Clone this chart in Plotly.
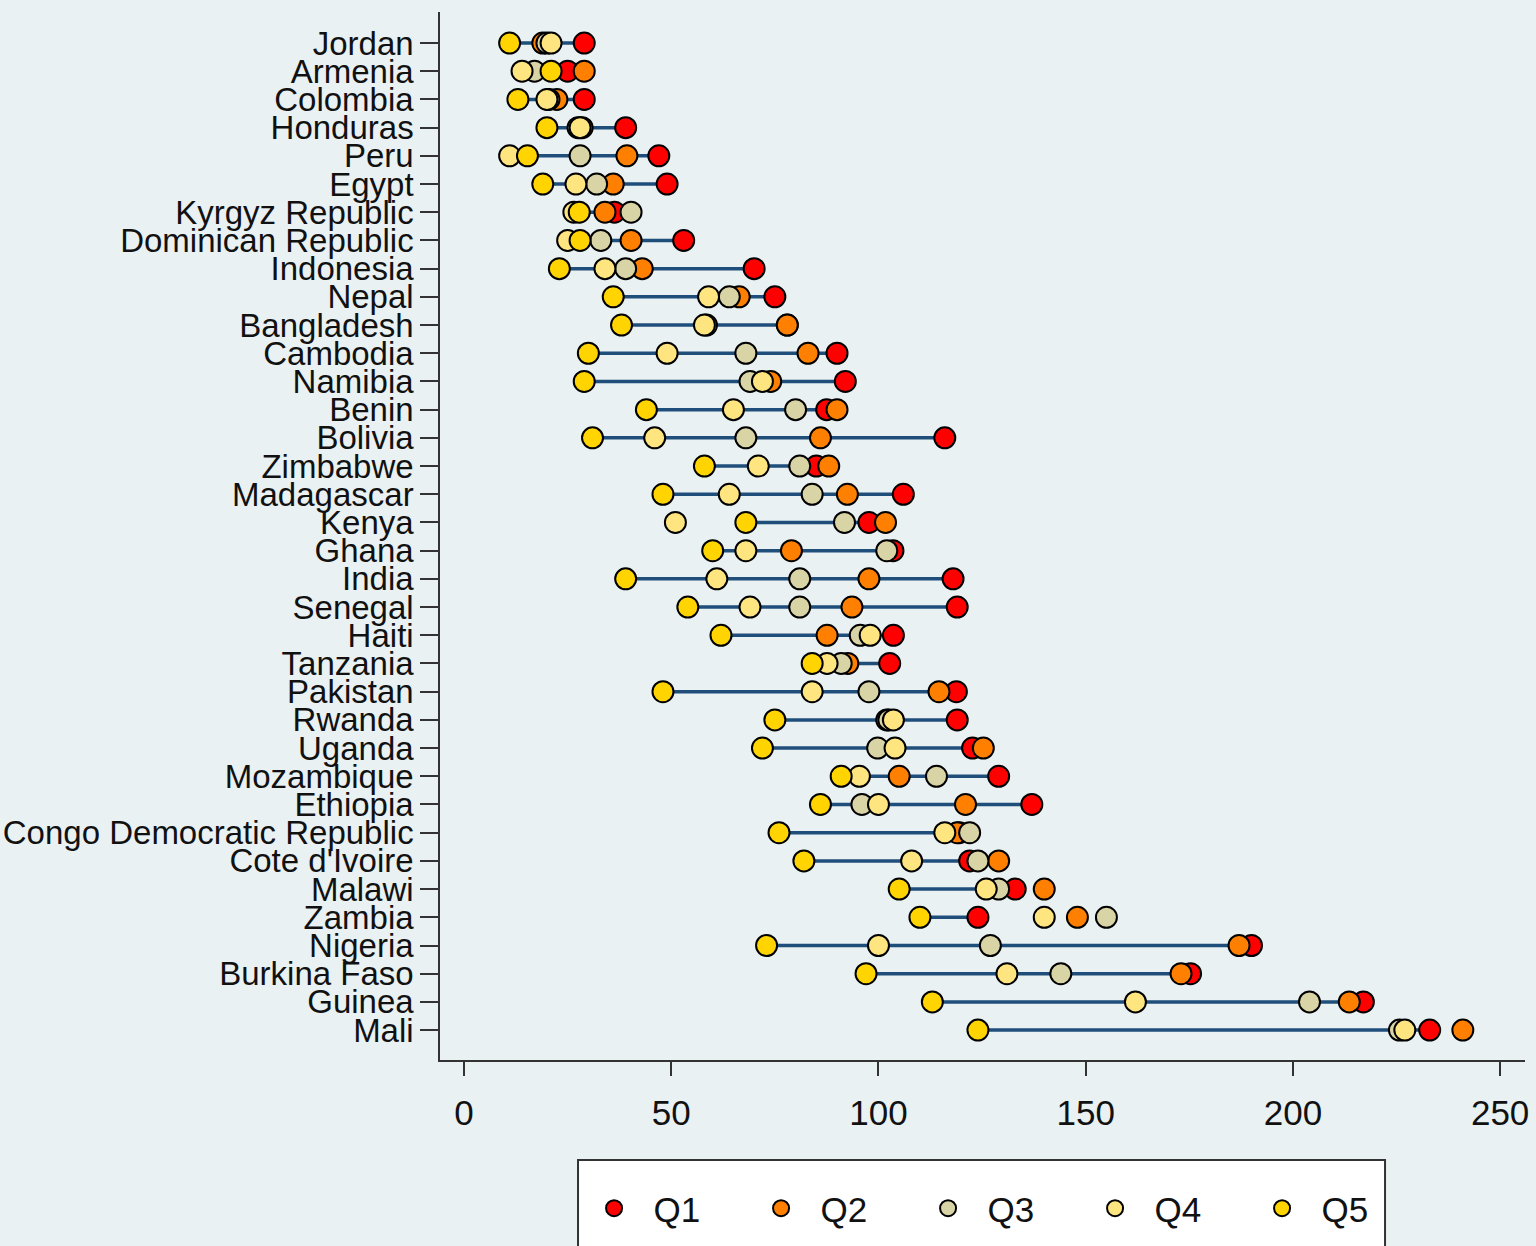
import plotly.graph_objects as go

countries = ["Jordan", "Armenia", "Colombia", "Honduras", "Peru", "Egypt",
             "Kyrgyz Republic", "Dominican Republic", "Indonesia", "Nepal",
             "Bangladesh", "Cambodia", "Namibia", "Benin", "Bolivia", "Zimbabwe",
             "Madagascar", "Kenya", "Ghana", "India", "Senegal", "Haiti",
             "Tanzania", "Pakistan", "Rwanda", "Uganda", "Mozambique", "Ethiopia",
             "Congo Democratic Republic", "Cote d'Ivoire", "Malawi", "Zambia",
             "Nigeria", "Burkina Faso", "Guinea", "Mali"]

q1 = [29, 25, 29, 39, 47, 49, 36.3, 53, 70, 75, 78, 90, 92, 87.5, 116, 85,
      106, 97.7, 103.5, 118, 119, 103.6, 102.7, 118.8, 119, 122.7, 129, 137,
      119.5, 122, 133, 124, 190, 175.3, 217, 233]
q2 = [19, 29, 22.4, 28.5, 39.3, 36, 34, 40.3, 43, 66.4, 78, 83, 74, 90, 86, 88,
      92.5, 101.7, 79, 97.7, 93.6, 87.6, 92.6, 114.6, 102, 125.3, 105, 121,
      119, 129, 140, 148, 187, 173, 213.6, 241]
q3 = [20, 17, 20.5, 27.5, 28, 32, 40.3, 33, 39, 64, 58.5, 68, 69, 80, 68, 81,
      84, 91.8, 102, 81, 81, 95.6, 91, 97.7, 102.5, 99.8, 114, 96,
      122, 124, 129, 155, 127, 144, 204, 225.7]
q4 = [21, 14, 20, 28, 11, 27, 26.5, 25, 34, 59, 58, 49, 72, 65, 46, 71,
      64, 51, 68, 61, 69, 98, 87.6, 84, 103.6, 104, 95.4, 100,
      116, 108, 126, 140, 100, 131, 162, 227]
q5 = [11, 21, 13, 20, 15.3, 19, 27.8, 28, 23, 36, 38, 30, 29, 44, 31, 58,
      48, 68, 60, 39, 54, 62, 84, 48, 75, 72, 91, 86,
      76, 82, 105, 110, 73, 97, 113, 124]

series_names = ["Q1", "Q2", "Q3", "Q4", "Q5"]
series_vals = [q1, q2, q3, q4, q5]
series_colors = ["#ff0000", "#ff8000", "#d9d4a6", "#ffe580", "#ffd400"]
x_ticks = [0, 50, 100, 150, 200, 250]

FONT = "Liberation Sans, Arial, sans-serif"
BG = "#eaf1f3"
NBSP = "\u00a0"

ypos = list(range(len(countries)))

fig = go.Figure()

lx, ly = [], []
for i, (a, b) in enumerate(zip(q5, q1)):
    lx += [a, b, None]
    ly += [i, i, None]
fig.add_trace(go.Scatter(x=lx, y=ly, mode="lines",
                         line=dict(color="#1f4e7a", width=3.5),
                         showlegend=False, hoverinfo="skip"))

for name, vals, col in zip(series_names, series_vals, series_colors):
    fig.add_trace(go.Scatter(x=vals, y=ypos, mode="markers", name=NBSP * 2 + name,
                             marker=dict(size=21, color=col,
                                         line=dict(color="black", width=2))))

fig.update_layout(
    width=1536, height=1246,
    margin=dict(l=440, r=11, t=12, b=186, autoexpand=False),
    paper_bgcolor=BG, plot_bgcolor=BG,
    font=dict(family=FONT, size=33, color="#111111"),
    showlegend=True,
    legend=dict(orientation="h", x=0.142, xanchor="left", y=-0.1135, yanchor="top",
                bgcolor="rgba(0,0,0,0)", font=dict(size=35),
                entrywidth=122, entrywidthmode="pixels"),
    shapes=[dict(type="rect", xref="paper", yref="paper",
                 x0=0.1272, x1=0.871, y0=-0.0954, y1=-0.20,
                 line=dict(color="#333333", width=2), fillcolor="white", layer="below")],
)
fig.update_xaxes(range=[-5.8, 256], tickvals=x_ticks, showgrid=False, zeroline=False,
                 showline=True, linecolor="#333333", linewidth=1.5,
                 ticks="outside", ticklen=14, tickcolor="#333333", tickwidth=1.5,
                 ticklabelstandoff=7, tickfont=dict(size=35), automargin=False)
fig.update_yaxes(range=[36.06, -1.1], tickvals=ypos, ticktext=countries,
                 showgrid=False, zeroline=False,
                 showline=True, linecolor="#333333", linewidth=1.5,
                 ticks="outside", ticklen=18, tickcolor="#333333", tickwidth=1.5,
                 tickfont=dict(size=33), automargin=False)

fig.write_html("out.html", config={"displayModeBar": False},
               post_script="document.body.style.margin='0';")
